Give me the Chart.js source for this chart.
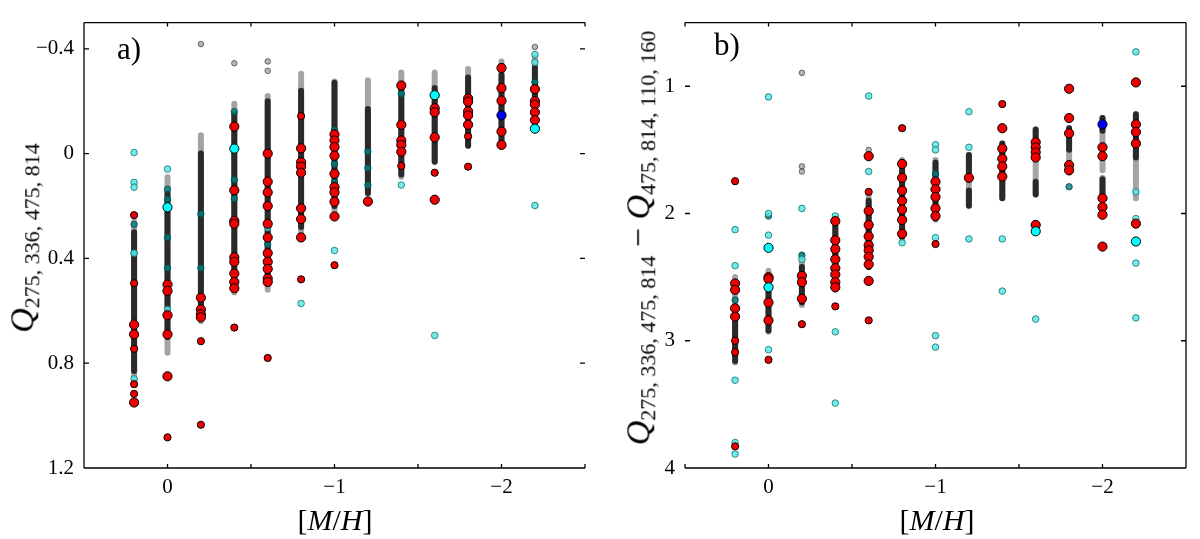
<!DOCTYPE html>
<html>
<head>
<meta charset="utf-8">
<script src="https://cdn.jsdelivr.net/npm/chart.js@4.4.1/dist/chart.umd.min.js"></script>
<style>
  html, body { margin: 0; padding: 0; background: #fff; }
  #wrap { position: relative; width: 1200px; height: 539px; overflow: hidden; font-family: "Liberation Serif", serif; }
  .panel { position: absolute; top: 0; width: 600px; height: 539px; }
  .txt { position: absolute; white-space: nowrap; color: #000; line-height: 1; }
  .ytitle { font-size: 34px; transform: translate(-50%, -50%) rotate(-90deg); }
  .ytitle sub { font-size: 22px; vertical-align: -0.25em; }
  .xtitle { font-size: 30px; transform: translate(-50%, -50%); }
  .tag { font-size: 31px; }
</style>
</head>
<body>
<div id="wrap">
  <div class="panel" style="left:0"><canvas id="chartA"></canvas></div>
  <div class="panel" style="left:600px"><canvas id="chartB"></canvas></div>
  <div class="txt tag" style="left:117px; top:33px">a)</div>
  <div class="txt tag" style="left:714px; top:29px">b)</div>
  <div class="txt ytitle" style="left:24px; top:238px"><i>Q</i><sub>275, 336, 475, 814</sub></div>
  <div class="txt ytitle" style="left:640px; top:238px"><i>Q</i><sub>275, 336, 475, 814</sub> − <i>Q</i><sub>475, 814, 110, 160</sub></div>
  <div class="txt xtitle" style="left:335px; top:520px">[<i>M</i>/<i>H</i>]</div>
  <div class="txt xtitle" style="left:937px; top:520px">[<i>M</i>/<i>H</i>]</div>
</div>
<script>
// metallicity columns
const mh = [0.2, 0, -0.2, -0.4, -0.6, -0.8, -1.0, -1.2, -1.4, -1.6, -1.8, -2.0, -2.2];
const xTicks = [-2.5, -2, -1.5, -1, -0.5, 0, 0.5];
const aYTicks = [-0.4, 0, 0.4, 0.8, 1.2];
const bYTicks = [1, 2, 3, 4];

// ---- panel a ----
// dense grey columns (many overlapping models), per column [lo, hi]
const aEnv = [[[0.26, 0.87]], [[0.09, 0.76]], [[-0.07, 0.64]], [[-0.19, 0.53]], [[-0.22, 0.52]], [[-0.305, 0.32]],
  [[-0.275, 0.246]], [[-0.28, 0.154]], [[-0.31, 0.088]], [[-0.31, 0.033]], [[-0.323, -0.03]], [[-0.352, -0.037]], [[-0.367, -0.095]]];
const aCore = [[[0.3, 0.83]], [[0.15, 0.7]], [[0.0, 0.6]], [[-0.15, 0.5]], [[-0.2, 0.48]], [[-0.24, 0.28]],
  [[-0.27, 0.2]], [[-0.17, 0.15]], [[-0.25, 0.08]], [[-0.25, 0.03]], [[-0.29, -0.03]], [[-0.3, -0.04]], [[-0.33, -0.1]]];
const aGray = [[], [], [-0.418], [-0.345], [-0.352, -0.316], [], [], [], [], [], [], [], [-0.407]];
const aTeal = [[0.27, 0.38], [0.136, 0.175, 0.32, 0.436], [0.23, 0.437], [-0.16, 0.1, 0.172], [0.276, 0.346], [],
  [-0.09, 0.04, 0.11, 0.136], [-0.007, 0.055, 0.12], [-0.228], [], [], [], [-0.272]];
const aCyanSmall = [[-0.004, 0.11, 0.128, 0.38, 0.86], [0.059, 0.595], [], [], [0.283], [0.572], [0.37], [], [0.12], [0.694], [], [],
  [-0.378, -0.348, 0.198]];
const aRedBig = [[0.653, 0.69, 0.95], [0.5, 0.524, 0.617, 0.69, 0.85], [0.55, 0.595, 0.613, 0.625],
  [-0.103, 0.14, 0.257, 0.268, 0.396, 0.413, 0.458, 0.49, 0.514],
  [0.0, 0.107, 0.148, 0.2, 0.268, 0.32, 0.38, 0.413, 0.44, 0.477, 0.49],
  [-0.02, 0.033, 0.05, 0.073, 0.209, 0.25, 0.32],
  [-0.073, -0.05, -0.025, 0.008, 0.077, 0.128, 0.148, 0.184, 0.24],
  [0.183], [-0.26, -0.11, -0.05, -0.033, -0.007], [-0.173, -0.158, -0.062, 0.176],
  [-0.21, -0.198, -0.161, -0.146, -0.11], [-0.327, -0.25, -0.202, -0.084, -0.033], [-0.246, -0.2, -0.187, -0.158, -0.128]];
const aRedSmall = [[0.235, 0.495, 0.745, 0.88, 0.917], [1.083], [0.716, 1.035], [0.664], [0.78], [-0.143, 0.48], [0.426], [],
  [0.047], [0.073], [-0.066, 0.05], [], []];
const aCyanBig = [[], [0.205], [], [-0.019], [], [], [], [], [], [-0.223], [], [], [-0.095]];
const aBlue = [[], [], [], [], [], [], [], [], [], [], [], [-0.146], []];

// ---- panel b ----
const bEnv = [[[2.5, 3.17]], [[2.45, 2.93]], [[2.32, 2.72]], [[2.05, 2.6]], [[1.85, 2.42]], [[1.58, 2.2]],
  [[1.58, 2.05]], [[1.54, 1.94]], [[1.45, 1.88]], [[1.34, 1.85]], [[1.33, 1.68]], [[1.25, 1.66], [1.72, 1.87]], [[1.22, 1.88]]];
const bCore = [[[2.78, 3.16]], [[2.55, 2.92]], [[2.42, 2.7]], [[2.1, 2.58]], [[1.9, 2.42]], [[1.6, 2.18]],
  [[1.6, 2.04]], [[1.54, 1.73], [1.82, 1.94]], [[1.45, 1.88]], [[1.34, 1.5], [1.75, 1.85]], [[1.33, 1.5]],
  [[1.25, 1.35], [1.73, 1.86]], [[1.22, 1.56]]];
const bGray = [[], [], [0.895, 1.63, 1.67], [], [1.5], [], [], [], [], [], [], [], []];
const bTeal = [[2.68], [2.02], [2.33], [], [], [], [1.69], [], [], [], [1.79], [], []];
const bCyanSmall = [[2.127, 2.41, 3.31, 3.8, 3.89], [1.084, 2.0, 2.17, 3.07], [1.96, 2.36], [2.02, 2.39, 2.93, 3.49],
  [1.077, 1.67, 2.22], [2.23], [1.46, 1.5, 2.19, 2.96, 3.05], [1.2, 1.48, 2.2], [2.2, 2.61], [2.83], [], [],
  [0.73, 1.83, 2.04, 2.39, 2.82]];
const bRedBig = [[2.55, 2.6, 2.745, 2.81], [2.5, 2.515, 2.7, 2.84], [2.49, 2.54, 2.67],
  [2.06, 2.21, 2.28, 2.36, 2.43, 2.48, 2.54, 2.58], [1.55, 1.98, 2.09, 2.18, 2.25, 2.29, 2.34, 2.4, 2.53],
  [1.61, 1.72, 1.82, 1.9, 1.97, 2.05, 2.16], [1.75, 1.81, 1.87, 1.96, 2.02], [1.72], [1.33, 1.49, 1.57, 1.63, 1.71],
  [1.44, 1.48, 1.52, 1.56, 2.09], [1.02, 1.25, 1.37, 1.62, 1.66], [1.48, 1.55, 1.88, 1.95, 2.01, 2.26],
  [0.97, 1.3, 1.36, 1.45, 2.08]];
const bRedSmall = [[1.746, 3.0, 3.09, 3.83], [3.15], [2.87], [2.73], [1.83, 2.84], [1.33], [2.24], [], [1.14], [], [], [], []];
const bCyanBig = [[], [2.27, 2.58], [], [], [], [], [], [], [], [2.14], [], [], [2.22]];
const bBlue = [[], [], [], [], [], [], [], [], [], [], [], [1.3], []];

function pts(cols) {
  return cols.flatMap((ys, i) => ys.map(y => ({ x: mh[i], y })));
}
function segs(cols) {
  const out = [];
  cols.forEach((rs, i) => rs.forEach(([lo, hi]) => {
    out.push({ x: mh[i], y: lo }, { x: mh[i], y: hi }, { x: mh[i], y: null });
  }));
  return out;
}
function dots(data, r, fill, edge, bw, order) {
  return { data, pointRadius: r, pointHoverRadius: r, backgroundColor: fill, borderColor: edge, borderWidth: bw, order };
}
function column(data, color, order) {
  return { data, showLine: true, spanGaps: false, pointRadius: 0, borderColor: color, borderWidth: 6,
    borderCapStyle: 'round', order };
}
function minus(v) {
  return v < 0 ? '\u2212' + Math.abs(v) : String(v);
}

const frame = {
  id: 'frame',
  afterDatasetsDraw(chart, args, opts) {
    const { ctx, chartArea: a, scales: { x, y } } = chart;
    ctx.save();
    ctx.strokeStyle = '#000';
    ctx.lineWidth = 1.3;
    ctx.beginPath();
    ctx.moveTo(a.left, a.top); ctx.lineTo(a.right, a.top);
    ctx.moveTo(a.left, a.bottom); ctx.lineTo(a.right, a.bottom);
    const sx = opts.spine === 'left' ? a.left : a.right;
    ctx.moveTo(sx, a.top); ctx.lineTo(sx, a.bottom);
    x.ticks.forEach(t => {
      const px = x.getPixelForValue(t.value);
      ctx.moveTo(px, a.top); ctx.lineTo(px, a.top + 4);
      ctx.moveTo(px, a.bottom); ctx.lineTo(px, a.bottom - 4);
    });
    y.ticks.forEach(t => {
      const py = y.getPixelForValue(t.value);
      ctx.moveTo(a.left, py); ctx.lineTo(a.left + 5, py);
      ctx.moveTo(a.right, py); ctx.lineTo(a.right - 5, py);
    });
    ctx.stroke();
    ctx.restore();
  }
};

const tickFont = { family: '"Liberation Serif", serif', size: 21 };

function makeChart(id, p) {
  new Chart(document.getElementById(id), {
    type: 'scatter',
    data: {
      datasets: [
        column(segs(p.env), 'rgba(125,125,125,0.7)', 20),
        column(segs(p.core), 'rgba(25,25,25,0.88)', 19),
        dots(pts(p.gray), 2.8, 'rgba(120,120,120,0.55)', 'rgba(40,40,40,0.6)', 1, 18),
        dots(pts(p.teal), 3.2, 'rgba(0,128,128,0.8)', 'rgba(0,70,70,0.8)', 1, 17),
        dots(pts(p.cyanSmall), 3.3, 'rgba(90,230,230,0.85)', 'rgba(20,110,110,0.8)', 1, 16),
        dots(pts(p.redSmall), 3.6, '#ee0000', '#000', 1, 15),
        dots(pts(p.redBig), 4.6, '#ee0000', '#000', 1, 14),
        dots(pts(p.cyanBig), 4.6, '#00ffff', '#000', 1, 13),
        dots(pts(p.blue), 4.6, '#0000ee', '#000', 1, 12)
      ]
    },
    options: {
      responsive: true,
      maintainAspectRatio: false,
      animation: false,
      layout: { padding: { top: 8, right: p.right, bottom: 0, left: 0 } },
      plugins: { legend: { display: false }, tooltip: { enabled: false }, frame: { spine: p.spine } },
      scales: {
        x: {
          type: 'linear', reverse: true, min: -2.5, max: 0.5, position: 'bottom',
          afterFit(s) { s.height = 71; },
          afterBuildTicks(s) { s.ticks = xTicks.map(v => ({ value: v })); },
          grid: { display: false, drawTicks: false }, border: { display: false },
          ticks: { autoSkip: false, maxRotation: 0, padding: 7, color: '#000', font: tickFont,
            callback: v => Number.isInteger(v) ? minus(v) : '' }
        },
        y: {
          type: 'linear', reverse: true, min: p.yMin, max: p.yMax,
          afterFit(s) { s.width = p.left; },
          afterBuildTicks(s) { s.ticks = p.yTicks.map(v => ({ value: v })); },
          grid: { display: false, drawTicks: false }, border: { display: false },
          ticks: { autoSkip: false, padding: 10, color: '#000', font: tickFont, callback: v => minus(v) }
        }
      }
    },
    plugins: [frame]
  });
}

function build() {
  makeChart('chartA', {
    env: aEnv, core: aCore, gray: aGray, teal: aTeal, cyanSmall: aCyanSmall, redSmall: aRedSmall, redBig: aRedBig,
    cyanBig: aCyanBig, blue: aBlue, yMin: -0.5, yMax: 1.2, yTicks: aYTicks, left: 84, right: 15, spine: 'left'
  });
  makeChart('chartB', {
    env: bEnv, core: bCore, gray: bGray, teal: bTeal, cyanSmall: bCyanSmall, redSmall: bRedSmall, redBig: bRedBig,
    cyanBig: bCyanBig, blue: bBlue, yMin: 0.5, yMax: 4, yTicks: bYTicks, left: 85, right: 14, spine: 'right'
  });
}

// make sure the serif face is ready before the canvases draw their tick labels
document.fonts.load('21px "Liberation Serif"').then(build, build);
</script>
</body>
</html>
